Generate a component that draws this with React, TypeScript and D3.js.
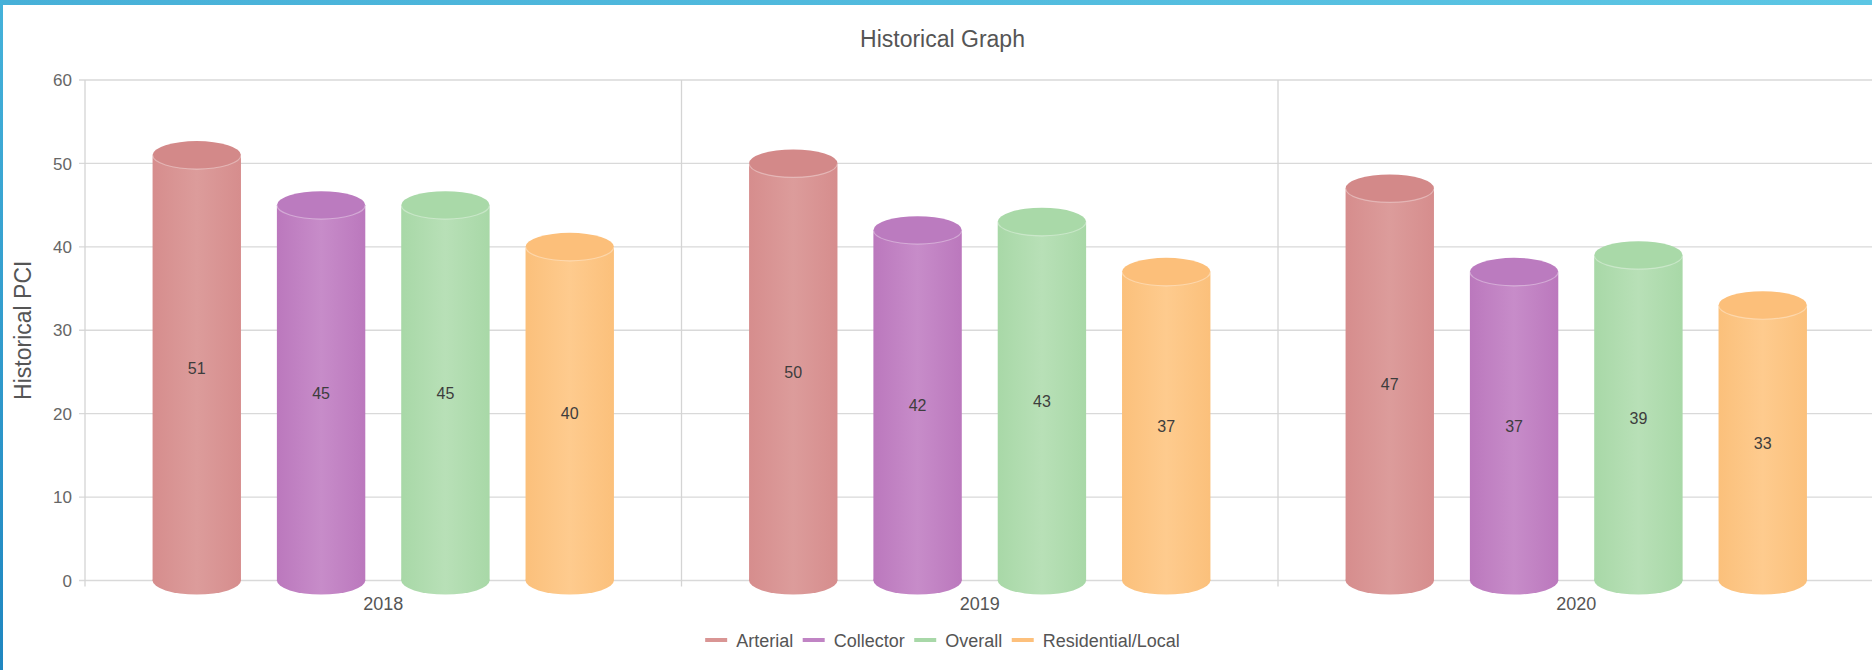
import React, { useEffect, useRef } from "react";
import * as d3 from "d3";

const categories = ["2018", "2019", "2020"];
const seriesNames = ["Arterial", "Collector", "Overall", "Residential/Local"];
const arterial = [51, 50, 47];
const collector = [45, 42, 37];
const overall = [45, 43, 39];
const residential = [40, 37, 33];
const yTicks = [0, 10, 20, 30, 40, 50, 60];

const seriesValues = [arterial, collector, overall, residential];
const bodyEdge = ["#d68d8d", "#bb78bd", "#a8d8a7", "#fbc07b"];
const bodyMid = ["#dc9c9b", "#c78cc9", "#b8e0b7", "#fecb8e"];
const topFill = ["#d38989", "#bb7bbf", "#a9d9a8", "#fcbf7a"];
const legendColor = ["#d99594", "#c084c4", "#a8d8a8", "#fdc07c"];

const W = 1872;
const H = 670;
const FONT = "'Liberation Sans', Arial, sans-serif";

export default function App() {
  const ref = useRef<SVGSVGElement | null>(null);

  useEffect(() => {
    const svg = d3.select(ref.current);
    svg.selectAll("*").remove();

    const left = 85;
    const catW = 596.5;
    const y0 = 580.5;
    const yTop = 80;

    const x = d3
      .scaleBand<string>()
      .domain(categories)
      .range([left, left + catW * categories.length])
      .padding(0);
    const xi = d3
      .scaleBand<string>()
      .domain(seriesNames)
      .range([0, x.bandwidth()])
      .paddingInner(0.289)
      .paddingOuter(0.5435);
    const y = d3.scaleLinear().domain([0, 60]).range([y0, yTop]);

    const defs = svg.append("defs");
    const tg = defs.append("linearGradient").attr("id", "topband").attr("x1", "0").attr("x2", "1").attr("y1", "0").attr("y2", "0");
    tg.append("stop").attr("offset", "0").attr("stop-color", "#47b0d8");
    tg.append("stop").attr("offset", "1").attr("stop-color", "#5cc6e4");
    const lg = defs.append("linearGradient").attr("id", "leftband").attr("x1", "0").attr("x2", "0").attr("y1", "0").attr("y2", "1");
    lg.append("stop").attr("offset", "0").attr("stop-color", "#45b2da");
    lg.append("stop").attr("offset", "1").attr("stop-color", "#1f86c0");

    seriesNames.forEach((s, i) => {
      const g = defs.append("linearGradient").attr("id", `body${i}`).attr("x1", "0").attr("x2", "1").attr("y1", "0").attr("y2", "0");
      g.append("stop").attr("offset", "0").attr("stop-color", bodyEdge[i]);
      g.append("stop").attr("offset", "0.5").attr("stop-color", bodyMid[i]);
      g.append("stop").attr("offset", "1").attr("stop-color", bodyEdge[i]);
    });

    svg.append("rect").attr("x", 0).attr("y", 0).attr("width", W).attr("height", H).attr("fill", "#ffffff");

    // grid
    const grid = svg.append("g");
    yTicks.forEach((t) => {
      grid.append("line")
        .attr("x1", left - 6).attr("x2", W)
        .attr("y1", y(t)).attr("y2", y(t))
        .attr("stroke", "#d9d9d9").attr("stroke-width", 1.3);
    });
    const bounds = categories.map((c) => x(c) as number);
    bounds.push(left + catW * categories.length);
    bounds.forEach((bx) => {
      grid.append("line")
        .attr("x1", bx).attr("x2", bx)
        .attr("y1", yTop).attr("y2", y0 + 6)
        .attr("stroke", "#d4d4d4").attr("stroke-width", 1.3);
    });

    // y tick labels
    svg.append("g").selectAll("text").data(yTicks).join("text")
      .attr("x", 72).attr("y", (d) => y(d)).attr("dy", "0.36em")
      .attr("text-anchor", "end")
      .attr("font-family", FONT).attr("font-size", 17).attr("fill", "#666")
      .text((d) => d);

    // x labels
    svg.append("g").selectAll("text").data(categories).join("text")
      .attr("x", (d) => (x(d) as number) + x.bandwidth() / 2).attr("y", 610)
      .attr("text-anchor", "middle")
      .attr("font-family", FONT).attr("font-size", 18).attr("fill", "#555")
      .text((d) => d);

    // y axis title
    svg.append("text")
      .attr("transform", `translate(31,${(y0 + yTop) / 2}) rotate(-90)`)
      .attr("text-anchor", "middle")
      .attr("font-family", FONT).attr("font-size", 23).attr("fill", "#555")
      .text("Historical PCI");

    // title
    svg.append("text")
      .attr("x", 942.5).attr("y", 47)
      .attr("text-anchor", "middle")
      .attr("font-family", FONT).attr("font-size", 23).attr("fill", "#555")
      .text("Historical Graph");

    // cylinders
    const rx = xi.bandwidth() / 2;
    const ry = 14;
    const bars = svg.append("g");
    categories.forEach((c, ci) => {
      seriesNames.forEach((s, si) => {
        const v = seriesValues[si][ci];
        const cx = (x(c) as number) + (xi(s) as number) + rx;
        const yt = y(v);
        const g = bars.append("g");
        g.append("ellipse").attr("cx", cx).attr("cy", y0).attr("rx", rx).attr("ry", ry)
          .attr("fill", `url(#body${si})`);
        g.append("rect").attr("x", cx - rx).attr("y", yt).attr("width", rx * 2).attr("height", y0 - yt)
          .attr("fill", `url(#body${si})`);
        g.append("ellipse").attr("cx", cx).attr("cy", yt).attr("rx", rx).attr("ry", ry)
          .attr("fill", topFill[si]);
        const arc = `M${cx - rx},${yt} A${rx},${ry} 0 0 0 ${cx + rx},${yt}`;
        g.append("path").attr("d", arc).attr("fill", "none")
          .attr("stroke", "rgba(255,255,255,0.35)").attr("stroke-width", 1.2);
        g.append("text")
          .attr("x", cx).attr("y", y(v / 2)).attr("dy", "0.36em")
          .attr("text-anchor", "middle")
          .attr("font-family", FONT).attr("font-size", 16).attr("fill", "#3d3d3d")
          .text(v);
      });
    });

    // legend
    const legend = svg.append("g");
    const lineW = 22;
    const gapLT = 9;
    const gapItem = 9.5;
    const items: { x: number; w: number }[] = [];
    let cur = 0;
    const tmp = legend.append("g");
    seriesNames.forEach((s) => {
      const t = tmp.append("text").attr("font-family", FONT).attr("font-size", 18).text(s);
      const w = (t.node() as SVGTextElement).getComputedTextLength();
      items.push({ x: cur, w });
      cur += lineW + gapLT + w + gapItem;
    });
    tmp.remove();
    const total = cur - gapItem;
    const lx0 = 942.5 - total / 2;
    seriesNames.forEach((s, i) => {
      const ix = lx0 + items[i].x;
      legend.append("line")
        .attr("x1", ix).attr("x2", ix + lineW)
        .attr("y1", 640).attr("y2", 640)
        .attr("stroke", legendColor[i]).attr("stroke-width", 4);
      legend.append("text")
        .attr("x", ix + lineW + gapLT).attr("y", 646.5)
        .attr("font-family", FONT).attr("font-size", 18).attr("fill", "#555")
        .text(s);
    });

    // frame
    svg.append("rect").attr("x", 0).attr("y", 0).attr("width", W).attr("height", 5).attr("fill", "url(#topband)");
    svg.append("rect").attr("x", 0).attr("y", 0).attr("width", 3).attr("height", H).attr("fill", "url(#leftband)");
  }, []);

  return (
    <svg
      ref={ref}
      width={W}
      height={H}
      style={{ position: "absolute", left: 0, top: 0, display: "block" }}
    />
  );
}
